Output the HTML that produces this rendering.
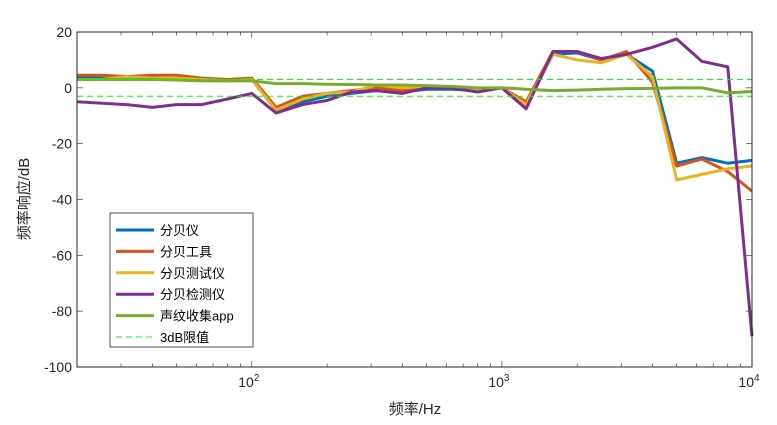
<!DOCTYPE html>
<html><head><meta charset="utf-8"><style>
body{margin:0;background:#fff;}
svg text{font-family:"Liberation Sans","Noto Sans CJK SC",sans-serif;}
</style></head><body>
<svg id="chart" width="777" height="420" xmlns="http://www.w3.org/2000/svg"></svg>
<script>
const freqs=[20,25,31.5,40,50,63,80,100,125,160,200,250,315,400,500,630,800,1000,1250,1600,2000,2500,3150,4000,5000,6300,8000,10000];
const sBlue=[4,4,4,3.5,3,3,2.5,3,-8,-5,-3,-2,-1,-1.5,-0.5,-0.5,-1,0,-6,12,12.5,10,12,6,-27,-25,-27,-26];
const sOrange=[4.5,4.5,4,4.5,4.5,3.5,3,3.5,-7,-3,-2,-1,0,-1,0,0,-1,0,-5,13,13,10,13,2,-28,-25.5,-30,-37];
const sYellow=[3,3,4,3.5,3.5,3,2.5,3,-8,-4,-2,-1.5,1,0,0.5,0,-1,0,-6,12,10,9,12,4,-33,-31,-29,-28];
const sPurple=[-5,-5.5,-6,-7,-6,-6,-4,-2,-9,-6,-4.5,-1.5,-1,-2,0,0,-1.5,0,-7.5,13,13,10.5,12,14.5,17.5,9.5,7.5,-89];
const sGreen=[3,3,3,3,2.8,2.5,2.5,2.5,1.5,1.5,1.3,1.2,1,1,0.8,0.5,0,0,-0.5,-1,-0.8,-0.5,-0.3,-0.2,0,0,-1.8,-1.3];
const yTicks=[20,0,-20,-40,-60,-80,-100];
const xTicks=[100,1000,10000];
const xTickLabels=["2","3","4"];
const limits=[3,-3];
const seriesNames=["分贝仪","分贝工具","分贝测试仪","分贝检测仪","声纹收集app"];
const seriesColors=["#0072BD","#D95319","#EDB120","#7E2F8E","#77AC30"];
const series=[sBlue,sOrange,sYellow,sPurple,sGreen];

const L=77,R=752,T=32,B=367,ymin=-100,ymax=20,xmin=20,xmax=10000;
const X=f=>L+(Math.log10(f)-Math.log10(xmin))/(Math.log10(xmax)-Math.log10(xmin))*(R-L);
const Y=v=>B-(v-ymin)/(ymax-ymin)*(B-T);
const svg=document.getElementById('chart');
const NS="http://www.w3.org/2000/svg";
function mk(t,a,p){const e=document.createElementNS(NS,t);for(const k in a)e.setAttribute(k,a[k]);(p||svg).appendChild(e);return e;}

const bg=mk('rect',{x:L,y:T,width:R-L,height:B-T,fill:'#fff'});



const tg=mk('g',{stroke:'#262626','stroke-width':0.6});


yTicks.forEach(v=>{
  mk('line',{x1:L,x2:L+6,y1:Y(v),y2:Y(v)},tg);
  mk('line',{x1:R,x2:R-6,y1:Y(v),y2:Y(v)},tg);
  const t=mk('text',{x:L-5,y:Y(v)+5,'text-anchor':'end','font-size':14,fill:'#262626',stroke:'none'});
  t.textContent=v;
  
  
});
for(let d=10;d<10000;d*=10){
  for(let m=1;m<10;m++){
    const f=d*m; if(f<xmin||f>xmax) continue;
    const len=(m===1)?6:3.5;
    mk('line',{x1:X(f),x2:X(f),y1:B,y2:B-len},tg);
    mk('line',{x1:X(f),x2:X(f),y1:T,y2:T+len},tg);
  }
}
mk('line',{x1:R,x2:R,y1:B,y2:B-6},tg);
xTicks.forEach((f,i)=>{
  const t=mk('text',{x:X(f)-3,y:B+20,'text-anchor':'middle','font-size':14,fill:'#262626',stroke:'none'});
  
  
  t.innerHTML='10<tspan dy="-6" font-size="10">'+xTickLabels[i]+'</tspan>';
});

series.forEach((s,i)=>{
  const p=mk('polyline',{points:s.map((v,j)=>X(freqs[j])+','+Y(v)).join(' '),fill:'none',stroke:seriesColors[i],'stroke-width':3,'stroke-linejoin':'round'});
  
  
});

limits.forEach(v=>{
  const l=mk('line',{x1:L,x2:R,y1:Y(v),y2:Y(v),stroke:'#00ff00','stroke-width':1,'stroke-dasharray':'6,4'});
  
  
});

const frame=mk('rect',{x:L,y:T,width:R-L,height:B-T,fill:'none',stroke:'#262626','stroke-width':1});



const lg=mk('g',{});


mk('rect',{x:110,y:213,width:143,height:134,fill:'#fff',stroke:'#262626','stroke-width':0.8},lg);
const names=seriesNames.concat(['3dB限值']);
names.forEach((n,i)=>{
  const yy=230+i*21.4;
  const ln=mk('line',{x1:116,x2:154,y1:yy,y2:yy,stroke:i<5?seriesColors[i]:'#00ff00','stroke-width':i<5?3:1,'stroke-dasharray':i<5?'none':'6,4'},lg);
  
  
  const t=mk('text',{x:160,y:yy+5,'font-size':13,fill:'#000'},lg);
  t.textContent=n;
  
  
});

const xl=mk('text',{x:415,y:414,'text-anchor':'middle','font-size':15,fill:'#262626'});
xl.textContent='频率/Hz';


const yl=mk('text',{x:0,y:0,'text-anchor':'middle','font-size':15,fill:'#262626',transform:'translate(29,199) rotate(-90)'});
yl.textContent='频率响应/dB';


</script>
</body></html>
